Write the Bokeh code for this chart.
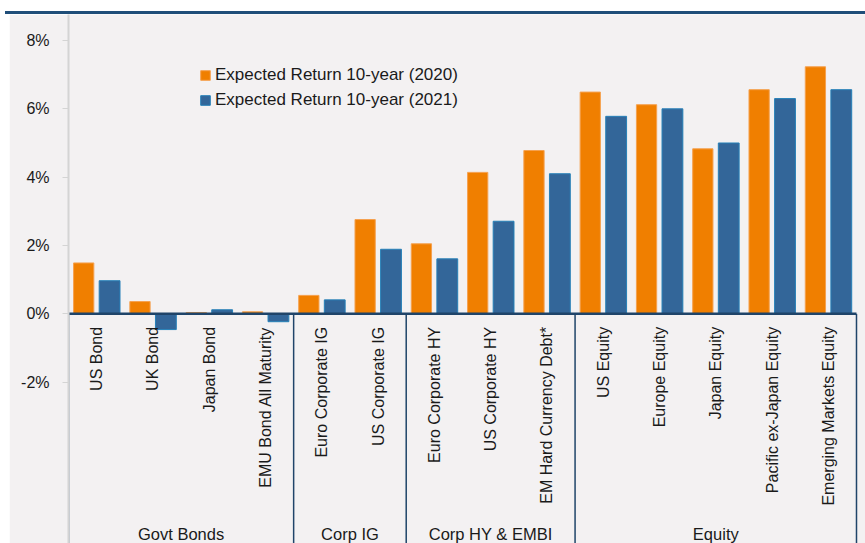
import numpy as np
from bokeh.plotting import figure
from bokeh.models import (ColumnDataSource, Range1d, FixedTicker, PrintfTickFormatter,
                          Legend, LegendItem, Div, Spacer)
from bokeh.layouts import column, row
from bokeh.transform import dodge
from bokeh.core.properties import value
from bokeh.embed import file_html
from bokeh.resources import INLINE

# ---- data ----
groups = ["Govt Bonds"] * 4 + ["Corp IG"] * 2 + ["Corp HY & EMBI"] * 3 + ["Equity"] * 5
categories = ["US Bond", "UK Bond", "Japan Bond", "EMU Bond All Maturity",
              "Euro Corporate IG", "US Corporate IG",
              "Euro Corporate HY", "US Corporate HY", "EM Hard Currency Debt*",
              "US Equity", "Europe Equity", "Japan Equity", "Pacific ex-Japan Equity",
              "Emerging Markets Equity"]
ret_2020 = [1.49, 0.36, 0.04, 0.06, 0.54, 2.76, 2.05, 4.14, 4.78, 6.49, 6.12, 4.83, 6.56, 7.23]
ret_2021 = [0.97, -0.46, 0.12, -0.23, 0.41, 1.89, 1.61, 2.71, 4.10, 5.78, 6.00, 5.00, 6.30, 6.56]
y_ticks = [-2, 0, 2, 4, 6, 8]
series_labels = ["Expected Return 10-year (2020)", "Expected Return 10-year (2021)"]

# ---- styling ----
BG = "#F3F1F2"
ORANGE = "#F07F00"
ORANGE_LINE = "#F5A14F"
BLUE = "#336699"
BLUE_LINE = "#2680B8"
NAVY = "#1F4469"
TEXT = "#1A1A1A"
FONT = "Liberation Sans"

n = len(categories)
xs = [i + 0.5 for i in range(n)]
src = ColumnDataSource(dict(x=xs, cat=categories, r2020=ret_2020, r2021=ret_2021))

# group spans
g_names, g_start, g_end = [], [], []
for i, g in enumerate(groups):
    if not g_names or g_names[-1] != g:
        g_names.append(g)
        g_start.append(i)
        g_end.append(i + 1)
    else:
        g_end[-1] = i + 1
g_mid = [(a + b) / 2 for a, b in zip(g_start, g_end)]
bounds = sorted(set(g_start + g_end))

y_lo, y_hi = -6.72, 8.76
p = figure(width=856, height=529, x_range=Range1d(0, 14.16), y_range=Range1d(y_lo, y_hi),
           output_backend="svg", toolbar_location=None, x_axis_location=None,
           min_border_left=59, min_border_right=0, min_border_top=0, min_border_bottom=0,
           background_fill_color=BG, border_fill_color=BG, outline_line_color=None, margin=0)
p.xgrid.visible = False
p.ygrid.visible = False

ax = p.yaxis[0]
ax.ticker = FixedTicker(ticks=y_ticks)
ax.formatter = PrintfTickFormatter(format="%d%%")
ax.axis_line_color = "#D4D4D4"
ax.axis_line_width = 2
ax.major_tick_line_color = "#D4D4D4"
ax.major_tick_out = 6
ax.major_tick_in = 0
ax.minor_tick_line_color = None
ax.major_label_text_font = FONT
ax.major_label_text_font_size = "16px"
ax.major_label_text_color = TEXT
ax.major_label_standoff = 13

r1 = p.vbar(x=dodge("x", -0.23, range=p.x_range), top="r2020", bottom=0, width=0.36, source=src,
            fill_color=ORANGE, line_color=ORANGE_LINE, line_width=1)
r2 = p.vbar(x=dodge("x", 0.23, range=p.x_range), top="r2021", bottom=0, width=0.37, source=src,
            fill_color=BLUE, line_color=BLUE_LINE, line_width=1)

# category axis frame
p.segment(x0=0, y0=0, x1=n, y1=0, line_color=NAVY, line_width=2.5)
p.segment(x0=bounds, y0=[0] * len(bounds), x1=bounds, y1=[y_lo] * len(bounds),
          line_color=NAVY, line_width=1.5)

p.text(x="x", y=-0.38, text="cat", source=src, angle=np.pi / 2,
       text_align="right", text_baseline="middle",
       text_font=value(FONT), text_font_size="16px", text_color=TEXT)
gsrc = ColumnDataSource(dict(x=g_mid, name=g_names))
p.text(x="x", y=-6.43, text="name", source=gsrc, text_align="center", text_baseline="middle",
       text_font=value(FONT), text_font_size="16.5px", text_color=TEXT)

legend = Legend(items=[LegendItem(label=series_labels[0], renderers=[r1]),
                       LegendItem(label=series_labels[1], renderers=[r2])],
                location=(131, 433), background_fill_alpha=0, border_line_color=None,
                label_text_font=FONT, label_text_font_size="17px", label_text_color=TEXT,
                glyph_width=12, glyph_height=12, label_standoff=4, spacing=5,
                padding=0, margin=0, label_height=20)
p.add_layout(legend)

top = Div(text='<div style="position:absolute;left:5px;top:11px;width:860px;height:3px;background:#1F4E79;"></div>',
          width=865, height=14, margin=0,
          styles={"background-color": "white", "position": "relative"})
layout = column(top, row(Spacer(width=9, height=529, margin=0), p, margin=0), margin=0)

open("out.html", "w").write(file_html(layout, INLINE))
